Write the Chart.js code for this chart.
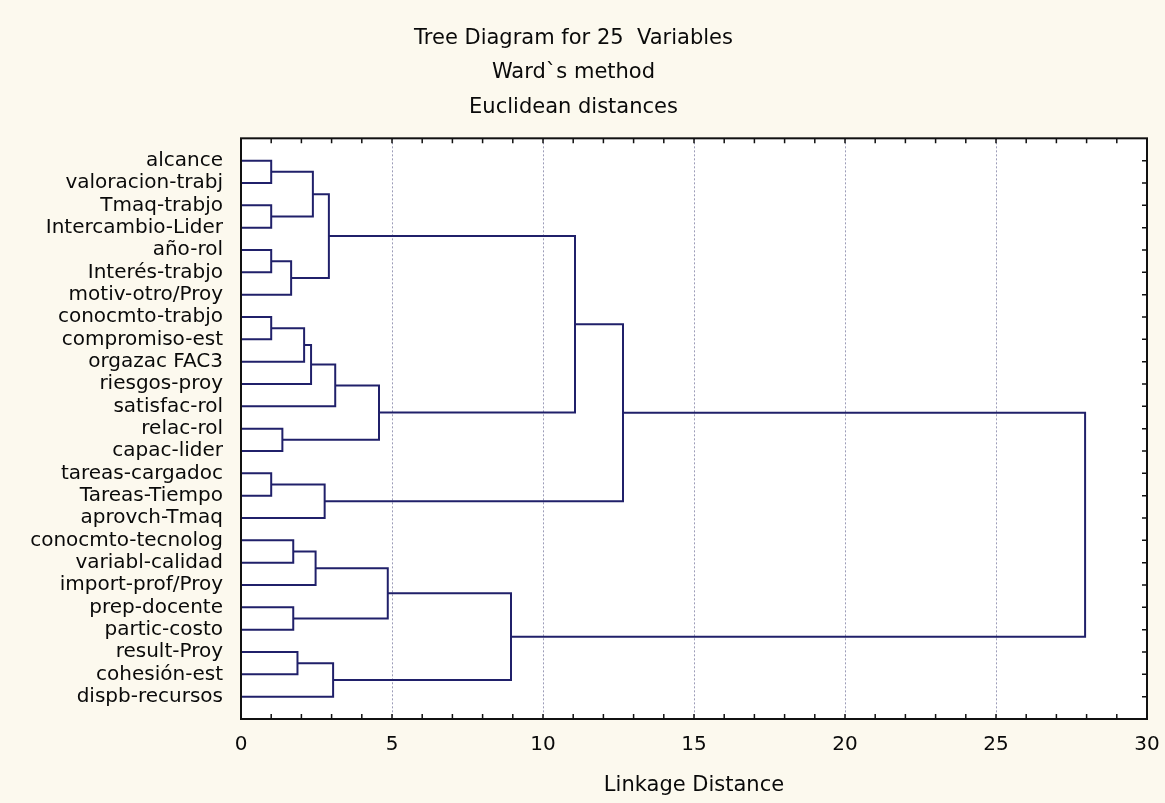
<!DOCTYPE html>
<html>
<head>
<meta charset="utf-8">
<script src="https://cdn.jsdelivr.net/npm/chart.js@4.4.1/dist/chart.umd.min.js"></script>
<style>
  body { margin: 0; background: #fcf9ee; }
  canvas { display: block; }
</style>
</head>
<body>
<canvas id="tree-chart" width="1165" height="803"></canvas>
<script>
var leaves = ['alcance', 'valoracion-trabj', 'Tmaq-trabjo', 'Intercambio-Lider', 'año-rol',
  'Interés-trabjo', 'motiv-otro/Proy', 'conocmto-trabjo', 'compromiso-est', 'orgazac FAC3',
  'riesgos-proy', 'satisfac-rol', 'relac-rol', 'capac-lider', 'tareas-cargadoc',
  'Tareas-Tiempo', 'aprovch-Tmaq', 'conocmto-tecnolog', 'variabl-calidad', 'import-prof/Proy',
  'prep-docente', 'partic-costo', 'result-Proy', 'cohesión-est', 'dispb-recursos'];

// merge steps: ids below 25 are leaves, 25 + k is the cluster made at step k
var mergeLeft   = [0, 2, 25, 4, 28, 27, 7, 31, 32, 33, 12, 34, 30, 14, 38, 37, 17, 41, 20, 42, 22, 45, 44, 40];
var mergeRight  = [1, 3, 26, 5, 6, 29, 8, 9, 10, 11, 13, 35, 36, 15, 16, 39, 18, 19, 21, 43, 23, 24, 46, 47];
var mergeHeight = [1.0, 1.0, 2.38, 1.0, 1.66, 2.91, 1.0, 2.09, 2.32, 3.12, 1.37, 4.57, 11.06, 1.0, 2.77, 12.65,
  1.73, 2.47, 1.73, 4.86, 1.87, 3.05, 8.94, 27.95];

var xTicks = [0, 5, 10, 15, 20, 25, 30];

var lineColor = '#20206a';

// build the U-shaped links
var nodeY = [], nodeH = [];
leaves.forEach(function(name, i) { nodeY.push(i); nodeH.push(0); });

var datasets = [];
for (var k = 0; k < mergeHeight.length; k++) {
  var l = mergeLeft[k], r = mergeRight[k], h = mergeHeight[k];
  datasets.push({
    data: [
      {x: nodeH[l], y: nodeY[l]},
      {x: h, y: nodeY[l]},
      {x: h, y: nodeY[r]},
      {x: nodeH[r], y: nodeY[r]}
    ],
    showLine: true,
    borderColor: lineColor,
    borderWidth: 2,
    pointRadius: 0,
    fill: false,
    tension: 0
  });
  nodeY.push((nodeY[l] + nodeY[r]) / 2);
  nodeH.push(h);
}

var framePlugin = {
  id: 'frame',
  beforeDraw: function(chart) {
    var a = chart.chartArea, ctx = chart.ctx;
    ctx.save();
    ctx.fillStyle = '#ffffff';
    ctx.fillRect(a.left, a.top, a.right - a.left, a.bottom - a.top);
    ctx.restore();
  },
  afterDraw: function(chart) {
    var a = chart.chartArea, ctx = chart.ctx;
    var xs = chart.scales.x, ys = chart.scales.y;
    ctx.save();
    ctx.strokeStyle = '#111111';
    ctx.lineWidth = 2;
    ctx.strokeRect(a.left, a.top, a.right - a.left, a.bottom - a.top);
    // small inward ticks
    ctx.lineWidth = 1.5;
    ctx.beginPath();
    xs.ticks.forEach(function(t) {
      var px = xs.getPixelForValue(t.value);
      ctx.moveTo(px, a.bottom); ctx.lineTo(px, a.bottom - 5);
      ctx.moveTo(px, a.top); ctx.lineTo(px, a.top + 5);
    });
    leaves.forEach(function(name, i) {
      var py = ys.getPixelForValue(i);
      ctx.moveTo(a.right, py); ctx.lineTo(a.right - 5, py);
    });
    ctx.stroke();
    ctx.restore();
  }
};

new Chart(document.getElementById('tree-chart').getContext('2d'), {
  type: 'scatter',
  data: { datasets: datasets },
  plugins: [framePlugin],
  options: {
    responsive: false,
    animation: false,
    events: [],
    layout: { padding: { left: 0, right: 18, top: 0, bottom: 0 } },
    plugins: {
      legend: { display: false },
      tooltip: { enabled: false },
      title: {
        display: true,
        text: ['Tree Diagram for 25  Variables', 'Ward`s method', 'Euclidean distances'],
        color: '#0a0a0a',
        font: { family: 'DejaVu Sans', size: 21, weight: 'normal', lineHeight: 1.64 },
        padding: { top: 21, bottom: 14 }
      }
    },
    scales: {
      x: {
        type: 'linear',
        min: 0,
        max: 30,
        afterFit: function(scale) { scale.height = 84; },
        ticks: {
          stepSize: 1,
          autoSkip: false,
          maxRotation: 0,
          padding: 2,
          color: '#0a0a0a',
          font: { family: 'DejaVu Sans', size: 20, lineHeight: 2.4 },
          callback: function(v) { return xTicks.indexOf(v) >= 0 ? String(v) : ''; }
        },
        grid: {
          drawTicks: false,
          lineWidth: 1,
          color: function(c) {
            var v = c.tick ? c.tick.value : 0;
            return (v % 5 === 0 && v > 0 && v < 30) ? '#9c9cb8' : 'rgba(0,0,0,0)';
          }
        },
        border: { display: false, dash: [2, 2] },
        title: {
          display: true,
          text: 'Linkage Distance',
          color: '#0a0a0a',
          font: { family: 'DejaVu Sans', size: 21 },
          padding: { top: 0, bottom: 5 }
        }
      },
      y: {
        type: 'linear',
        reverse: true,
        min: -1,
        max: 25,
        afterFit: function(scale) { scale.width = 241; },
        ticks: {
          stepSize: 1,
          autoSkip: false,
          padding: 18,
          color: '#0a0a0a',
          font: { family: 'DejaVu Sans', size: 20 },
          callback: function(v) { return leaves[v] !== undefined ? leaves[v] : ''; }
        },
        grid: { display: false, drawTicks: false },
        border: { display: false }
      }
    }
  }
});
</script>
</body>
</html>
